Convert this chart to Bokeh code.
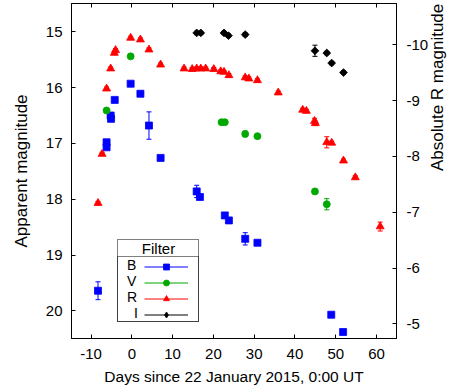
import math
from bokeh.plotting import figure
from bokeh.models import (Range1d, LinearAxis, FixedTicker, Whisker, ColumnDataSource,
                          Legend, LegendItem, TeeHead)
from bokeh.embed import file_html
from bokeh.resources import INLINE

# ---------------- data ----------------
filters = ["B", "V", "R", "I"]
colors = ["#0000ff", "#00a800", "#ff0000", "#000000"]

b_day = [-8.3, -6.2, -6.2, -5.2, -5.1, -4.2, -0.3, 2.1, 4.2, 7.05, 15.9, 16.7, 22.8, 23.8, 27.8, 30.8, 48.9, 51.8]
b_mag = [19.64, 16.98, 17.07, 16.50, 16.56, 16.22, 15.93, 16.11, 16.68, 17.26, 17.86, 17.96, 18.29, 18.38, 18.71, 18.78, 20.07, 20.38]
b_err = [0.16, 0.03, 0.03, 0.03, 0.03, 0.03, 0.03, 0.03, 0.245, 0.03, 0.11, 0.03, 0.03, 0.03, 0.11, 0.03, 0.03, 0.03]

v_day = [-6.2, -0.3, 22.0, 22.8, 27.8, 30.8, 44.9, 47.8]
v_mag = [16.41, 15.44, 16.62, 16.62, 16.83, 16.87, 17.86, 18.09]
v_err = [0.03, 0.03, 0.03, 0.03, 0.05, 0.03, 0.04, 0.10]

r_day = [-8.3, -7.3, -6.2, -5.2, -4.3, -4.0, -0.3, 2.1, 4.2, 7.05, 12.8, 14.8, 15.9, 16.9, 18.1, 20.1,
         21.8, 22.6, 23.8, 27.8, 28.7, 30.8, 35.9, 41.9, 42.8, 44.8, 45.0, 47.8, 49.0, 51.9, 54.8, 60.9]
r_mag = [18.07, 17.19, 16.02, 15.66, 15.38, 15.33, 15.11, 15.14, 15.32, 15.59, 15.66, 15.67, 15.66, 15.66, 15.66, 15.67,
         15.71, 15.72, 15.78, 15.82, 15.84, 15.87, 16.09, 16.40, 16.42, 16.60, 16.64, 16.98, 16.99, 17.31, 17.61, 18.49]
r_err = [0.03, 0.03, 0.03, 0.03, 0.03, 0.03, 0.03, 0.03, 0.03, 0.03, 0.03, 0.03, 0.03, 0.03, 0.03, 0.03,
         0.03, 0.03, 0.03, 0.03, 0.03, 0.03, 0.03, 0.03, 0.03, 0.05, 0.04, 0.10, 0.03, 0.03, 0.03, 0.08]

i_day = [15.9, 16.9, 22.6, 23.7, 27.8, 44.9, 47.8, 49.0, 51.9]
i_mag = [15.02, 15.02, 15.02, 15.07, 15.05, 15.34, 15.38, 15.56, 15.73]
i_err = [0.03, 0.03, 0.03, 0.03, 0.03, 0.10, 0.03, 0.03, 0.03]

distance_modulus = 25.233   # apparent - absolute (R)

x_ticks = [-10, 0, 10, 20, 30, 40, 50, 60]
x_tick_labels = ["-10", "0", "10", "20", "30", "40", "50", "60"]
y_ticks = [15, 16, 17, 18, 19, 20]
y_tick_labels = ["15", "16", "17", "18", "19", "20"]
abs_ticks = [-10, -9, -8, -7, -6, -5]
abs_tick_labels = ["-10", "-9", "-8", "-7", "-6", "-5"]

x_title = "Days since 22 January 2015, 0:00 UT"
y_title = "Apparent magnitude"
y2_title = "Absolute R magnitude"
legend_title = "Filter"
legend_labels = ["B", "V", "R", "\u2002I"]

FONT = "Liberation Sans"
NB = "\u00a0"

# ---------------- figure ----------------
y_lo, y_hi = 20.496, 14.493
p = figure(width=459, height=392, output_backend="svg", toolbar_location=None,
           x_range=Range1d(-14.8, 64.9), y_range=Range1d(y_lo, y_hi),
           min_border_left=71, min_border_right=63, min_border_top=3, min_border_bottom=54)
p.background_fill_color = "white"
p.border_fill_color = "white"
p.outline_line_color = "black"
p.outline_line_width = 1
p.xgrid.visible = False
p.ygrid.visible = False

p.extra_y_ranges = {"abs": Range1d(y_lo - distance_modulus, y_hi - distance_modulus)}


def style_axis(ax, ticks, labels):
    ax.ticker = FixedTicker(ticks=ticks)
    ax.major_label_overrides = {t: l for t, l in zip(ticks, labels)}
    ax.major_tick_in = 4
    ax.major_tick_out = 0
    ax.minor_tick_in = 0
    ax.minor_tick_out = 0
    ax.major_tick_line_color = "black"
    ax.axis_line_color = "black"
    ax.major_label_text_font = FONT
    ax.major_label_text_font_size = "15px"
    ax.major_label_text_color = "black"
    ax.axis_label_text_font = FONT
    ax.axis_label_text_font_size = "17px"
    ax.axis_label_text_font_style = "normal"
    ax.axis_label_text_color = "black"


xa = p.xaxis[0]
style_axis(xa, x_ticks, x_tick_labels)
xa.axis_label = x_title
xa.axis_label_text_font_size = "15.5px"
xa.major_label_standoff = 10
xa.axis_label_standoff = 6

ya = p.yaxis[0]
style_axis(ya, y_ticks, y_tick_labels)
ya.axis_label = y_title
ya.major_label_standoff = 9
ya.axis_label_standoff = 12

top = LinearAxis()
style_axis(top, x_ticks, [""] * len(x_ticks))
top.major_label_text_font_size = "0px"
top.major_label_standoff = 0
p.add_layout(top, "above")

right = LinearAxis(y_range_name="abs")
style_axis(right, abs_ticks, abs_tick_labels)
right.axis_label = y2_title
right.axis_label_orientation = math.pi / 2
right.major_label_standoff = 10
right.axis_label_standoff = 6
p.add_layout(right, "right")

# ---------------- data marks ----------------
series = [
    ("B", b_day, b_mag, b_err, "square", 7, 0.0, "square"),
    ("V", v_day, v_mag, v_err, "circle", 7, 0.0, "circle"),
    ("R", r_day, r_mag, r_err, "triangle", 8, 0.0, "triangle"),
    ("I", i_day, i_mag, i_err, "square", 5.5, math.pi / 4, "diamond"),
]

nan = float("nan")
legend_renderers = []
for (name, d, m, e, mk, sz, ang, lmk), col in zip(series, colors):
    src = ColumnDataSource(dict(day=d, mag=m,
                                lo=[a + b for a, b in zip(m, e)],
                                hi=[a - b for a, b in zip(m, e)]))
    w = Whisker(source=src, base="day", upper="hi", lower="lo", dimension="height",
                line_color=col, line_width=1, level="underlay",
                upper_head=TeeHead(size=5, line_color=col, line_width=1),
                lower_head=TeeHead(size=5, line_color=col, line_width=1))
    p.add_layout(w)
    sc = p.scatter("day", "mag", source=src, marker=mk, size=sz, angle=ang,
                   fill_color=col, line_color=col, line_width=0.8)
    # legend-only samples (NaN: nothing drawn in the plot area)
    ln = p.line(x=[nan], y=[nan], line_color=col, line_width=1)
    if lmk != mk:
        lm = p.scatter(x=[nan], y=[nan], marker=lmk, fill_color=col, line_color=col, line_width=0.8)
    else:
        lm = sc
    legend_renderers.append([ln, lm])

# ---------------- legend ----------------
dummy = p.scatter(x=[], y=[], fill_alpha=0, line_alpha=0)
pad_title = NB * 5 + "\u2009" + legend_title

item_cfg = dict(label_text_font=FONT, label_text_font_size="14px", label_text_color="black",
                glyph_height=15, label_height=15, spacing=0, padding=0, margin=0)

# main box: title + labels (B V R I)
leg_a = Legend(items=[LegendItem(label=f, renderers=[dummy]) for f in legend_labels],
               location=(46, 16), title=pad_title,
               title_text_font=FONT, title_text_font_size="15px", title_text_font_style="normal",
               title_text_color="black", title_standoff=0,
               glyph_width=0, label_standoff=9, label_width=71,
               border_line_color="black", border_line_width=1,
               background_fill_color="white", background_fill_alpha=1.0, **item_cfg)
p.add_layout(leg_a)

# frame of the items area only: its top edge is the rule under the title
leg_e = Legend(items=[LegendItem(label=NB, renderers=[dummy]) for f in filters],
               location=(46, 16),
               glyph_width=0, label_standoff=9, label_width=71,
               border_line_color="black", border_line_width=1,
               background_fill_alpha=0, **item_cfg)
p.add_layout(leg_e)

# glyph samples to the right of the labels
leg_b = Legend(items=[LegendItem(label=NB, renderers=rs) for rs in legend_renderers],
               location=(73, 16),
               glyph_width=44, label_standoff=0, label_width=0,
               border_line_alpha=0, background_fill_alpha=0, **item_cfg)
p.add_layout(leg_b)

open("out.html", "w").write(file_html(p, INLINE))
